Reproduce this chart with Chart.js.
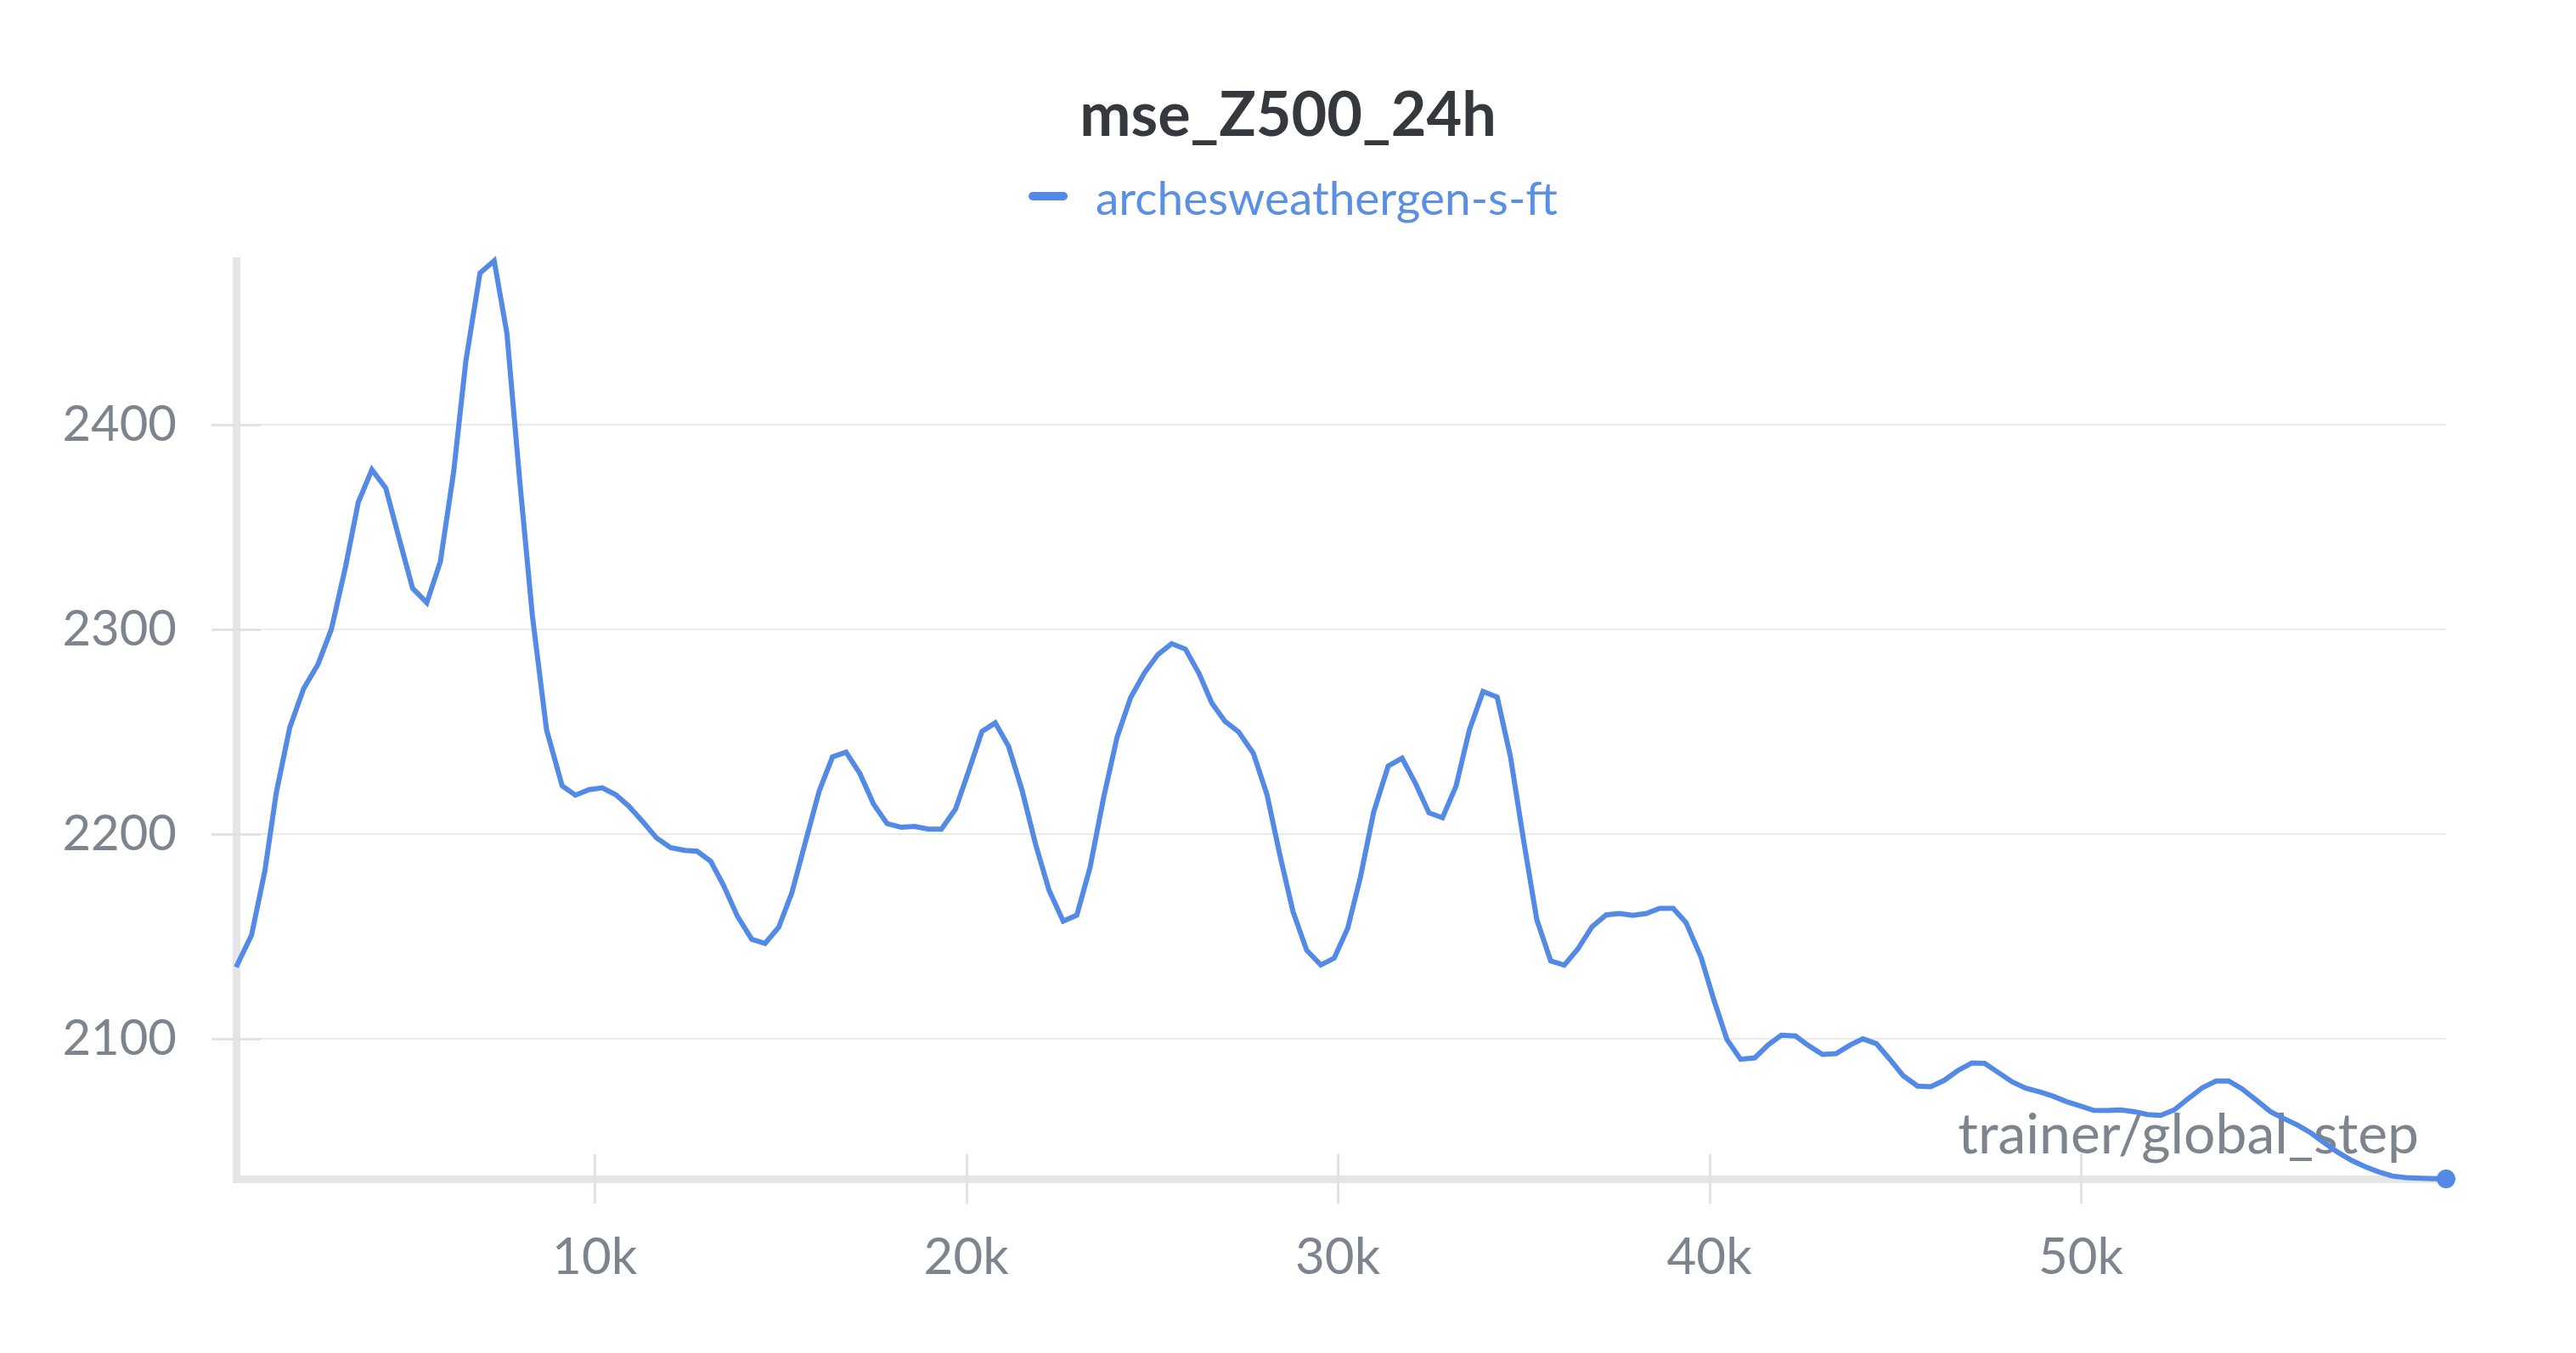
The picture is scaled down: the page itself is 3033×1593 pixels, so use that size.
<!DOCTYPE html>
<html>
<head>
<meta charset="utf-8">
<title>mse_Z500_24h</title>
<script src="https://cdn.jsdelivr.net/npm/chart.js@4.4.1/dist/chart.umd.min.js"></script>
<style>
  html, body { margin: 0; padding: 0; background: #fff; }
  #wrap { width: 3033px; height: 1593px; position: relative; }
</style>
</head>
<body>
<div id="wrap"><canvas id="chart"></canvas></div>
<script>
// datos
const chartTitle = 'mse_Z500_24h';
const seriesName = 'archesweathergen-s-ft';
const xAxisTitle = 'trainer/global_step';

const steps = [
  350, 766, 1124, 1429, 1794, 2168, 2556, 2914, 3295, 3638,
  4005, 4377, 4743, 5101, 5482, 5847, 6206, 6533, 6914, 7296,
  7638, 7981, 8324, 8704, 9124, 9482, 9848, 10206, 10571, 10914,
  11296, 11661, 12041, 12423, 12758, 13124, 13467, 13847, 14229, 14587,
  14953, 15310, 15676, 16041, 16400, 16766, 17138, 17504, 17870, 18251,
  18610, 18990, 19333, 19714, 20057, 20423, 20781, 21139, 21504, 21870,
  22229, 22610, 22976, 23333, 23698, 24057, 24423, 24796, 25161, 25527,
  25901, 26267, 26610, 26967, 27333, 27730, 28096, 28439, 28796, 29162,
  29543, 29902, 30267, 30610, 30967, 31356, 31730, 32096, 32453, 32818,
  33184, 33543, 33909, 34290, 34647, 35013, 35356, 35730, 36096, 36462,
  36841, 37222, 37581, 37938, 38304, 38662, 39028, 39371, 39776, 40133,
  40475, 40841, 41223, 41581, 41938, 42320, 42686, 43045, 43410, 43790,
  44133, 44498, 44857, 45216, 45604, 45960, 46320, 46686, 47067, 47410,
  47790, 48148, 48514, 48896, 49253, 49618, 49984, 50343, 50705, 51067,
  51447, 51790, 52148, 52514, 52895, 53275, 53641, 53977, 54343, 54724,
  55104, 55470, 55829, 56194, 56553, 56933, 57298, 57657, 58023, 58382,
  58747, 59127, 59480, 59828
];

const mseValues = [
  2135, 2150.7, 2182, 2220, 2252, 2271, 2283, 2300, 2330.5, 2362,
  2378, 2369, 2344, 2320, 2313, 2333, 2377, 2431, 2474, 2480,
  2444.6, 2373, 2306.6, 2251, 2223.6, 2219, 2221.7, 2222.6, 2219.2, 2213.7,
  2206, 2198.2, 2193.4, 2192, 2191.6, 2186.7, 2175, 2159.7, 2148.6, 2146.6,
  2154.5, 2171.5, 2196.4, 2220.9, 2237.7, 2240, 2229.6, 2214.7, 2205.1, 2203.3,
  2203.7, 2202.4, 2202.4, 2212.3, 2230.3, 2250.1, 2254.3, 2242.9, 2221.3, 2194.8,
  2172.6, 2157.5, 2160.4, 2183.7, 2217.8, 2247.1, 2266.6, 2278.7, 2287.7, 2293,
  2290.3, 2278.4, 2264, 2255, 2249.9, 2239.4, 2219.2, 2190, 2162.1, 2143.3,
  2136.1, 2139.4, 2154, 2179, 2210.8, 2233.2, 2237.1, 2224.6, 2210.4, 2208,
  2223.5, 2250.9, 2269.6, 2266.9, 2237.8, 2195.6, 2158.2, 2138.1, 2136, 2143.9,
  2154.7, 2160.5, 2161.2, 2160.3, 2161.2, 2163.7, 2163.7, 2156.8, 2139.9, 2118.4,
  2099.7, 2090, 2090.7, 2097, 2101.8, 2101.4, 2096.5, 2092.4, 2092.8, 2097,
  2100, 2097.6, 2090, 2082, 2076.9, 2076.6, 2079.7, 2084.5, 2088.2, 2088,
  2083.4, 2079, 2075.9, 2074.1, 2072, 2069.3, 2067.2, 2065.1, 2065, 2065.3,
  2064.4, 2063, 2062.6, 2065.3, 2070.9, 2076.2, 2079.4, 2079.4, 2075.5, 2070,
  2064.4, 2061, 2057.9, 2054, 2049.2, 2044.4, 2040.5, 2037.5, 2035, 2033,
  2032.2, 2031.9, 2031.7, 2031.6
];

const yTickStep = 100;
const xTickStep = 10000;

// colores
const lineColor = '#538ae5';
const legendColor = '#5a8fe6';
const titleColor = '#35383d';
const tickColor = '#7e848e';
const axisColor = '#e5e5e8';
const gridColor = '#ebebee';

Chart.defaults.font.family = 'Lato, "Noto Sans", sans-serif';

const points = steps.map((s, i) => ({ x: s, y: mseValues[i] }));

// ticks en multiplos del paso, dentro del rango
function stepTicks(scale, step) {
    const ticks = [];
    for (let v = Math.ceil(scale.min / step) * step; v < scale.max; v += step) {
        if (v > scale.min) ticks.push({ value: v });
    }
    scale.ticks = ticks;
}

// Plugin para titulo, leyenda, marcas de ejes y titulo del eje x
const decorPlugin = {
    id: 'decor',
    beforeDatasetsDraw(chart) {
        const ctx = chart.ctx;
        const area = chart.chartArea;
        const xs = chart.scales.x;
        const ys = chart.scales.y;
        ctx.save();
        ctx.strokeStyle = '#e2e2e6';
        ctx.lineWidth = 3;
        ctx.beginPath();
        xs.ticks.forEach(t => {
            const px = Math.round(xs.getPixelForValue(t.value)) + 0.5;
            ctx.moveTo(px, area.bottom - 29);
            ctx.lineTo(px, area.bottom + 29);
        });
        ys.ticks.forEach(t => {
            const py = Math.round(ys.getPixelForValue(t.value)) + 0.5;
            ctx.moveTo(area.left - 29, py);
            ctx.lineTo(area.left + 29, py);
        });
        ctx.stroke();

        // titulo del eje x dentro del area
        ctx.fillStyle = tickColor;
        ctx.font = '66px Lato, "Noto Sans", sans-serif';
        ctx.textAlign = 'right';
        ctx.textBaseline = 'alphabetic';
        ctx.fillText(xAxisTitle, area.right - 32, area.bottom - 30);
        ctx.restore();
    },
    afterDraw(chart) {
        const ctx = chart.ctx;
        const cx = chart.width / 2;
        ctx.save();
        ctx.fillStyle = titleColor;
        ctx.font = 'bold 72px Lato, "Noto Sans", sans-serif';
        ctx.textAlign = 'center';
        ctx.textBaseline = 'alphabetic';
        ctx.fillText(chartTitle, cx, 160);

        // leyenda
        ctx.font = '55px Lato, "Noto Sans", sans-serif';
        const textW = ctx.measureText(seriesName).width;
        const boxW = 46, gap = 33;
        const startX = cx + 6 - (boxW + gap + textW) / 2;
        ctx.strokeStyle = lineColor;
        ctx.lineWidth = 10;
        ctx.lineCap = 'round';
        ctx.beginPath();
        ctx.moveTo(startX + 5, 231);
        ctx.lineTo(startX + boxW - 5, 231);
        ctx.stroke();
        ctx.fillStyle = legendColor;
        ctx.textAlign = 'left';
        ctx.fillText(seriesName, startX + boxW + gap, 253);
        ctx.restore();
    }
};

const ctx = document.getElementById('chart').getContext('2d');
new Chart(ctx, {
    type: 'line',
    data: {
        datasets: [{
            label: seriesName,
            data: points,
            borderColor: lineColor,
            backgroundColor: lineColor,
            borderWidth: 6,
            tension: 0,
            fill: false,
            clip: false,
            pointRadius: c => (c.dataIndex === steps.length - 1 ? 11 : 0),
            pointHoverRadius: 0,
            pointBorderWidth: 0,
            pointBackgroundColor: lineColor
        }]
    },
    options: {
        responsive: true,
        maintainAspectRatio: false,
        animation: false,
        layout: { padding: { top: 307, right: 153, bottom: 0, left: 0 } },
        plugins: {
            legend: { display: false },
            title: { display: false },
            tooltip: { enabled: false }
        },
        scales: {
            x: {
                type: 'linear',
                min: Math.min(...steps),
                max: Math.max(...steps),
                afterFit: s => { s.height = 205; },
                afterBuildTicks: s => stepTicks(s, xTickStep),
                grid: { drawOnChartArea: false, drawTicks: false },
                border: { display: true, color: axisColor, width: 9 },
                ticks: {
                    padding: 57,
                    color: tickColor,
                    font: { size: 60 },
                    maxRotation: 0,
                    autoSkip: false,
                    callback: v => Math.round(v / 1000) + 'k'
                }
            },
            y: {
                type: 'linear',
                min: Math.min(...mseValues),
                max: Math.max(...mseValues),
                afterFit: s => { s.width = 278; },
                afterBuildTicks: s => stepTicks(s, yTickStep),
                grid: { color: gridColor, lineWidth: 2, drawTicks: false },
                border: { display: true, color: axisColor, width: 9 },
                ticks: {
                    padding: 70,
                    color: tickColor,
                    font: { size: 58 },
                    autoSkip: false,
                    callback: v => String(Math.round(v))
                }
            }
        }
    },
    plugins: [decorPlugin]
});
</script>
</body>
</html>
